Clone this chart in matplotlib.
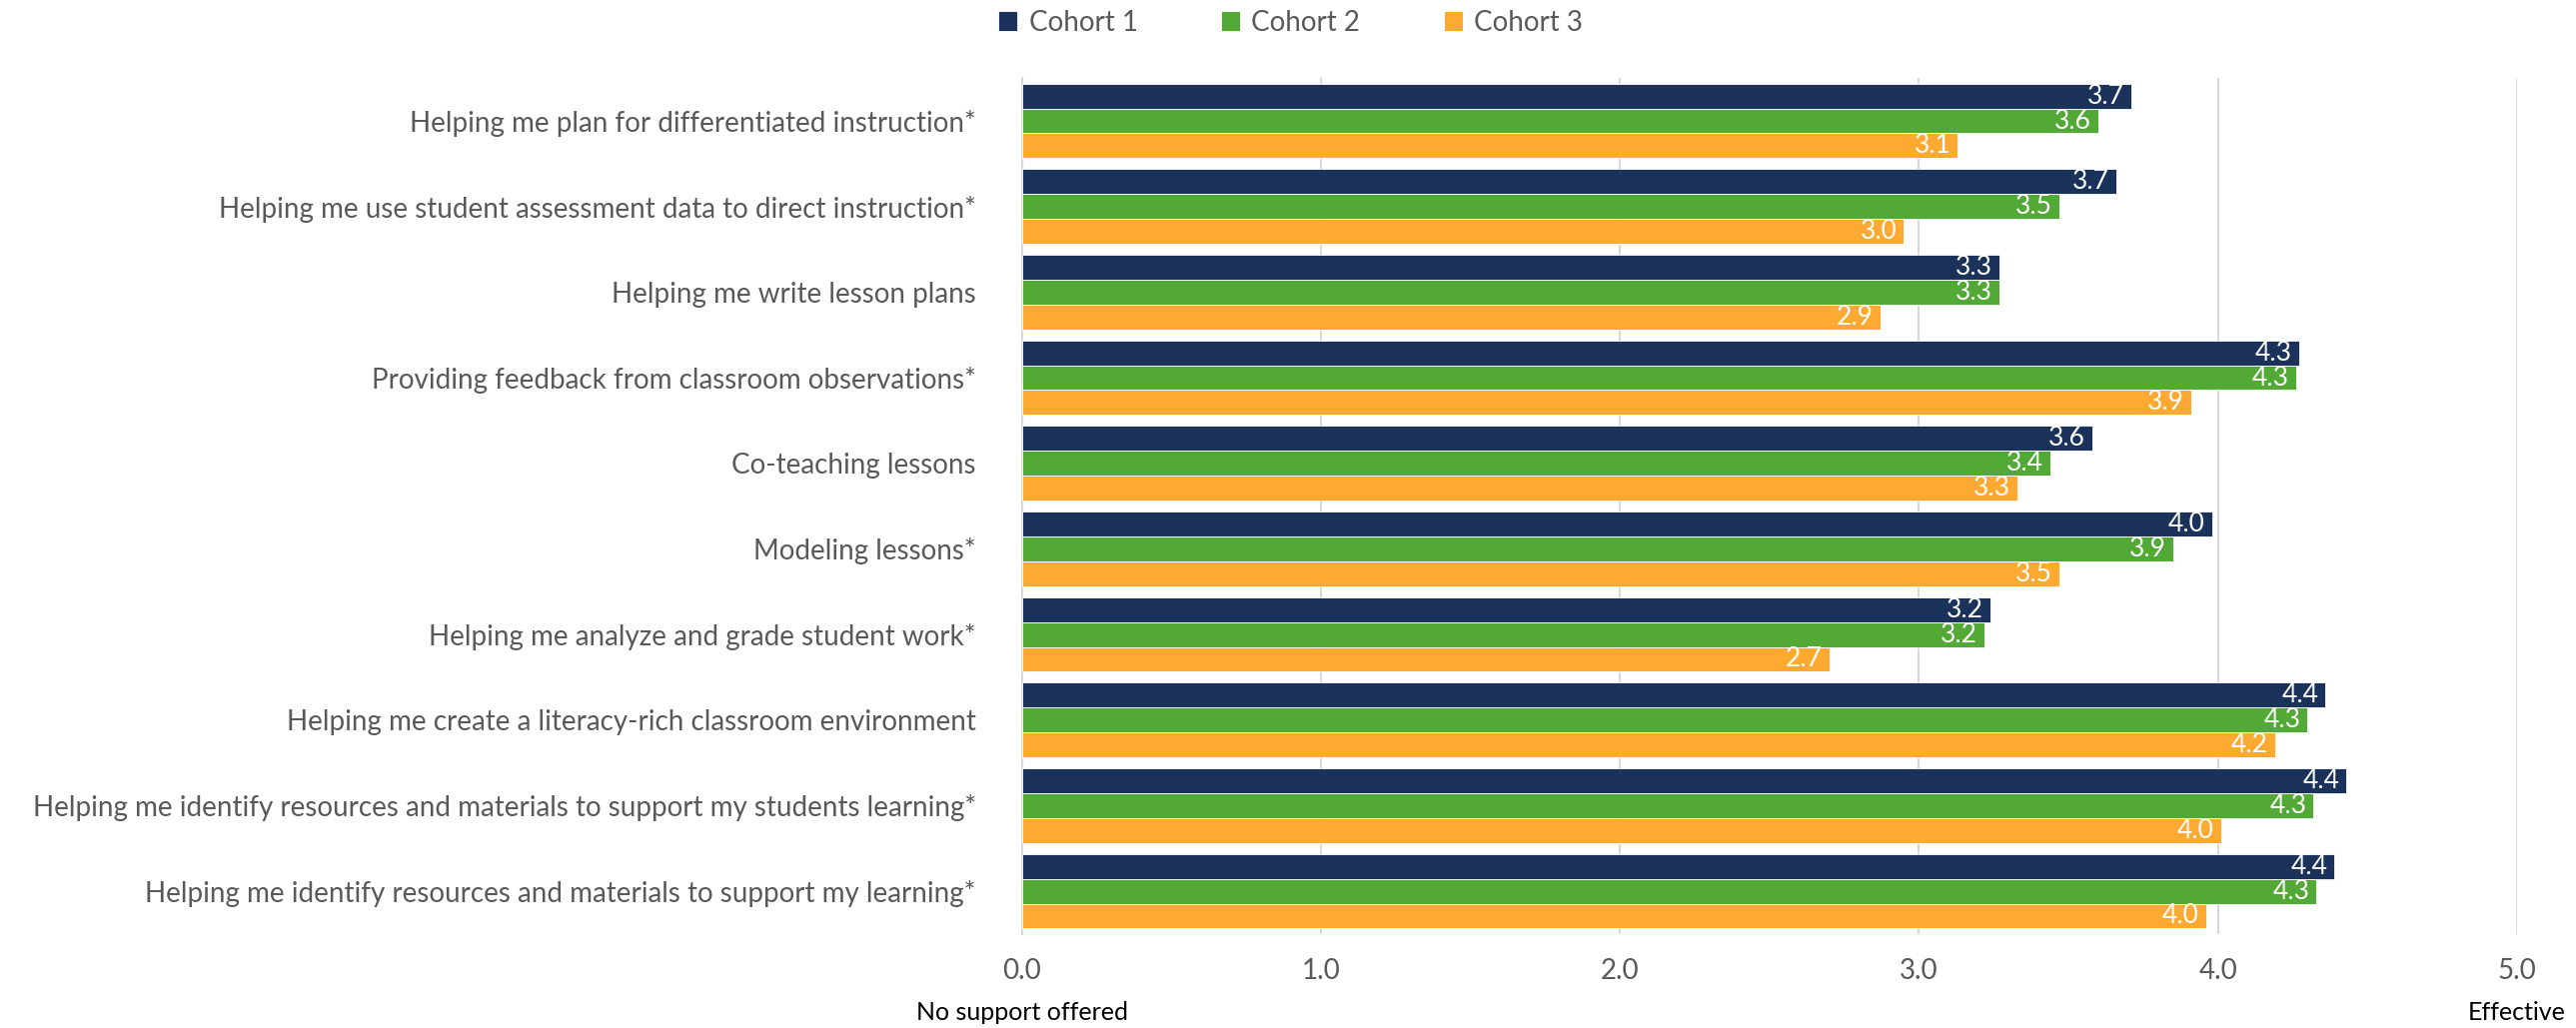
import numpy as np
import matplotlib
matplotlib.use('Agg')
import matplotlib.pyplot as plt

plt.rcParams['font.family'] = ['Lato', 'DejaVu Sans']

# Datos del grafico (de arriba hacia abajo)
categories = [
    'Helping me plan for differentiated instruction*',
    'Helping me use student assessment data to direct instruction*',
    'Helping me write lesson plans',
    'Providing feedback from classroom observations*',
    'Co-teaching lessons',
    'Modeling lessons*',
    'Helping me analyze and grade student work*',
    'Helping me create a literacy-rich classroom environment',
    'Helping me identify resources and materials to support my students learning*',
    'Helping me identify resources and materials to support my learning*',
]
cohort1 = [3.71, 3.66, 3.27, 4.27, 3.58, 3.98, 3.24, 4.36, 4.43, 4.39]
cohort2 = [3.60, 3.47, 3.27, 4.26, 3.44, 3.85, 3.22, 4.30, 4.32, 4.33]
cohort3 = [3.13, 2.95, 2.87, 3.91, 3.33, 3.47, 2.70, 4.19, 4.01, 3.96]
series_names = ['Cohort 1', 'Cohort 2', 'Cohort 3']
colors = ['#1B325A', '#52A935', '#FEA931']
x_ticks = [0.0, 1.0, 2.0, 3.0, 4.0, 5.0]

gray = '#595959'

fig = plt.figure(figsize=(25.78, 10.29), dpi=100)
ax = fig.add_axes([0.3967, 0.0914, 0.5804, 0.8326])

y = np.arange(len(categories))
h = 0.29
for k, (vals, name, col) in enumerate(zip([cohort1, cohort2, cohort3], series_names, colors)):
    bars = ax.barh(y + (k - 1) * h, vals, height=h, color=col, label=name,
                   edgecolor='white', linewidth=0.6, zorder=3)
    ax.bar_label(bars, labels=[f'{v:.1f}' for v in vals], padding=-5,
                 color='white', fontsize=19, zorder=4)
    for t in ax.texts[-len(vals):]:
        t.set_horizontalalignment('right')

ax.set_ylim(-0.5, len(categories) - 0.5)
ax.invert_yaxis()
ax.set_xlim(0, 5)
ax.set_xticks(x_ticks)
ax.set_xticklabels([f'{t:.1f}' for t in x_ticks], fontsize=20, color=gray)
ax.set_yticks(y)
ax.set_yticklabels(categories, fontsize=20, color=gray)
ax.tick_params(axis='both', length=0)
ax.tick_params(axis='x', pad=17)
ax.tick_params(axis='y', pad=33)
ax.grid(axis='x', color='#D9D9D9', linewidth=1.5, zorder=0)
for s in ['top', 'right', 'bottom']:
    ax.spines[s].set_visible(False)
ax.spines['left'].set_color('#D9D9D9')
ax.spines['left'].set_linewidth(1.5)

# Etiquetas extremas de la escala
ax.text(0, -0.092, 'No support offered', transform=ax.get_xaxis_transform(),
        ha='center', va='center', fontsize=18, color='black')
ax.text(5, -0.092, 'Effective', transform=ax.get_xaxis_transform(),
        ha='center', va='center', fontsize=18, color='black')

fig.legend(loc='center', bbox_to_anchor=(0.501, 0.978), ncol=3, frameon=False,
           fontsize=20, labelcolor=gray, handlelength=0.7, handleheight=0.7,
           handletextpad=0.4, columnspacing=3.0)

fig.savefig('out.png', dpi=100)
